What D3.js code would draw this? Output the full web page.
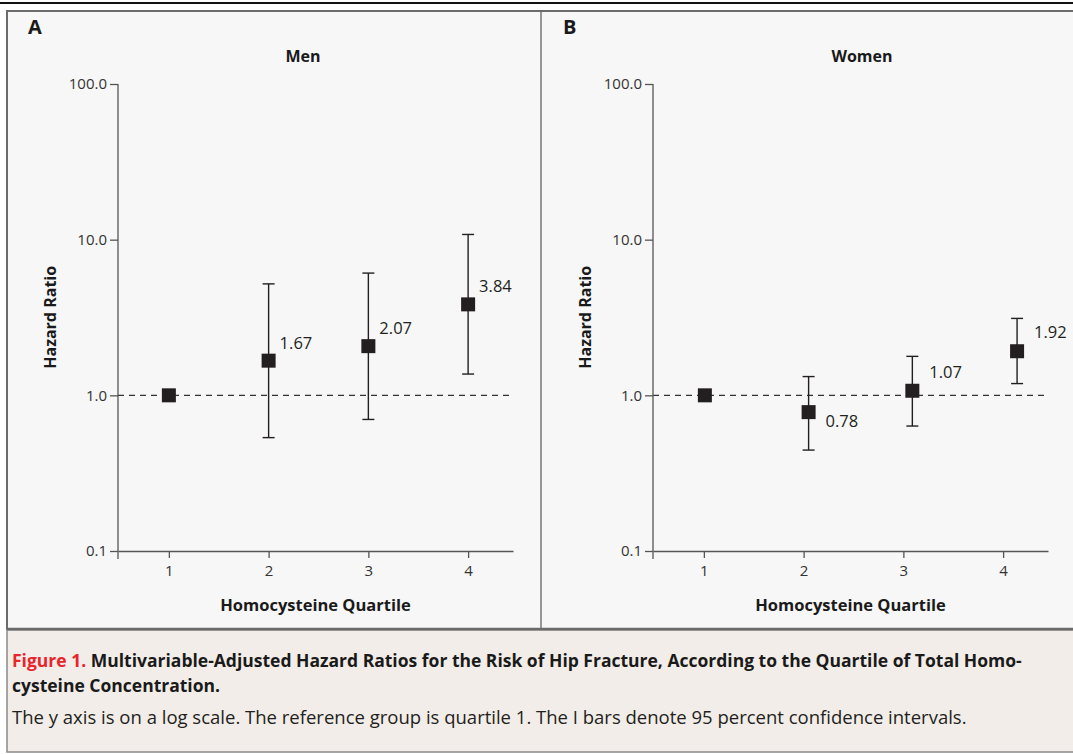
<!DOCTYPE html>
<html>
<head>
<meta charset="utf-8">
<script src="https://cdn.jsdelivr.net/npm/d3@7"></script>
<style>
  body { margin: 0; background: #fff; }
  text { font-family: "Open Sans", "Noto Sans", sans-serif; }
</style>
</head>
<body>
<div id="chart"></div>
<script>
// values
const quartiles = [1, 2, 3, 4];
const yTicks = [0.1, 1, 10, 100];

const menHR = [1.0, 1.67, 2.07, 3.84];
const menLow = [null, 0.535, 0.70, 1.37];
const menHigh = [null, 5.2, 6.1, 10.8];
const menPos = [1, 2, 3, 4];

const womenHR = [1.0, 0.78, 1.07, 1.92];
const womenLow = [null, 0.445, 0.635, 1.19];
const womenHigh = [null, 1.32, 1.78, 3.12];
const womenPos = [1.01, 2.05, 3.09, 4.14];

const W = 1073, H = 754;
const FONT = "'Open Sans', 'Noto Sans', sans-serif";

const svg = d3.select("#chart").append("svg")
  .attr("width", W)
  .attr("height", H);

// frame and backgrounds
svg.append("rect").attr("x", 0).attr("y", 0).attr("width", W).attr("height", H).attr("fill", "#fff");
svg.append("rect").attr("x", 0).attr("y", 2).attr("width", W).attr("height", 2).attr("fill", "#111");
svg.append("rect").attr("x", 7).attr("y", 11).attr("width", W).attr("height", 618)
  .attr("fill", "#f7f7f7").attr("stroke", "#6b6b6b").attr("stroke-width", 2);
svg.append("rect").attr("x", 7).attr("y", 630).attr("width", W).attr("height", 122)
  .attr("fill", "#f2ede8").attr("stroke", "#8a8a8a").attr("stroke-width", 1.5);
svg.append("line").attr("x1", 7).attr("x2", W).attr("y1", 629).attr("y2", 629)
  .attr("stroke", "#6b6b6b").attr("stroke-width", 2.5);
svg.append("line").attr("x1", 541).attr("x2", 541).attr("y1", 12).attr("y2", 628)
  .attr("stroke", "#777").attr("stroke-width", 1.5);

const plotW = 395, plotH = 467;

const yScale = d3.scaleLog()
  .domain([0.1, 100])
  .range([plotH, 0]);

const xScale = d3.scaleLinear()
  .domain([0.49, 4.45])
  .range([0, plotW]);

function panel(opts) {
  const g = svg.append("g")
    .attr("transform", `translate(${opts.left}, 84)`);

  svg.append("text")
    .attr("x", opts.left - 90)
    .attr("y", 34)
    .attr("font-size", 20)
    .attr("font-weight", 700)
    .attr("fill", "#1a1a1a")
    .text(opts.letter);

  svg.append("text")
    .attr("x", opts.left + opts.titleDx)
    .attr("y", 62)
    .attr("text-anchor", "middle")
    .attr("font-size", 16)
    .attr("font-weight", 700)
    .attr("fill", "#1a1a1a")
    .text(opts.title);

  // reference line at HR = 1
  g.append("line")
    .attr("x1", 0)
    .attr("x2", plotW)
    .attr("y1", yScale(1))
    .attr("y2", yScale(1))
    .attr("stroke", "#333")
    .attr("stroke-width", 1.2)
    .attr("stroke-dasharray", "6,5");

  const yAxis = d3.axisLeft(yScale)
    .tickValues(yTicks)
    .tickFormat(d3.format(".1f"))
    .tickSize(8)
    .tickPadding(3)
    .tickSizeOuter(0);

  const ya = g.append("g").call(yAxis);
  ya.select(".domain").remove();
  ya.selectAll(".tick line").attr("stroke", "#555").attr("stroke-width", 1.3);
  ya.selectAll(".tick text").attr("font-size", 15).attr("fill", "#333")
    .attr("font-family", FONT);
  g.append("line")
    .attr("x1", 0).attr("x2", 0)
    .attr("y1", 0).attr("y2", plotH + 8)
    .attr("stroke", "#555").attr("stroke-width", 1.3);

  const xAxis = d3.axisBottom(xScale)
    .tickValues(quartiles)
    .tickFormat(d3.format("d"))
    .tickSize(7)
    .tickPadding(7)
    .tickSizeOuter(0);

  const xa = g.append("g")
    .attr("transform", `translate(0, ${plotH})`)
    .call(xAxis);
  xa.select(".domain").attr("stroke", "#555").attr("stroke-width", 1.3);
  xa.selectAll(".tick line").attr("stroke", "#555").attr("stroke-width", 1.3);
  xa.selectAll(".tick text").attr("font-size", 15).attr("fill", "#333")
    .attr("font-family", FONT);

  g.append("text")
    .attr("x", plotW / 2)
    .attr("y", 527)
    .attr("text-anchor", "middle")
    .attr("font-size", 16.5)
    .attr("font-weight", 700)
    .attr("fill", "#1a1a1a")
    .text("Homocysteine Quartile");

  g.append("text")
    .attr("transform", `translate(-62, ${yScale(1) - 78}) rotate(-90)`)
    .attr("text-anchor", "middle")
    .attr("font-size", 16)
    .attr("font-weight", 700)
    .attr("fill", "#1a1a1a")
    .text("Hazard Ratio");

  const rows = quartiles.map((q, i) => ({
    pos: opts.pos[i], hr: opts.hr[i], low: opts.low[i], high: opts.high[i]
  }));

  const bars = rows.filter(d => d.low !== null);
  const cap = 6;

  g.selectAll(".ci").data(bars).enter().append("line")
    .attr("x1", d => xScale(d.pos)).attr("x2", d => xScale(d.pos))
    .attr("y1", d => yScale(d.low)).attr("y2", d => yScale(d.high))
    .attr("stroke", "#231f20").attr("stroke-width", 1.4);

  ["low", "high"].forEach(k => {
    g.selectAll(".cap-" + k).data(bars).enter().append("line")
      .attr("x1", d => xScale(d.pos) - cap).attr("x2", d => xScale(d.pos) + cap)
      .attr("y1", d => yScale(d[k])).attr("y2", d => yScale(d[k]))
      .attr("stroke", "#231f20").attr("stroke-width", 1.4);
  });

  const sq = 14;
  g.selectAll(".pt").data(rows).enter().append("rect")
    .attr("x", d => xScale(d.pos) - sq / 2)
    .attr("y", d => yScale(d.hr) - sq / 2)
    .attr("width", sq)
    .attr("height", sq)
    .attr("fill", "#231f20");

  g.selectAll(".val").data(bars).enter().append("text")
    .attr("x", d => xScale(d.pos) + opts.labelDx)
    .attr("y", d => yScale(d.hr) + (d.hr < 1 ? 15 : opts.labelDy))
    .attr("font-size", 16.5)
    .attr("fill", "#231f20")
    .text(d => d.hr.toFixed(2));
}

panel({ left: 118, letter: "A", title: "Men", titleDx: 185, hr: menHR, low: menLow, high: menHigh, pos: menPos, labelDx: 11, labelDy: -12 });
panel({ left: 653, letter: "B", title: "Women", titleDx: 209, hr: womenHR, low: womenLow, high: womenHigh, pos: womenPos, labelDx: 17, labelDy: -13 });

// caption
const cap1 = svg.append("text")
  .attr("x", 12)
  .attr("y", 667)
  .attr("font-size", 17.5)
  .attr("font-weight", 700)
  .attr("fill", "#1a1a1a");
cap1.append("tspan").attr("fill", "#e8242c").text("Figure 1. ");
cap1.append("tspan").text("Multivariable-Adjusted Hazard Ratios for the Risk of Hip Fracture, According to the Quartile of Total Homo-");

svg.append("text")
  .attr("x", 12)
  .attr("y", 692)
  .attr("font-size", 17.5)
  .attr("font-weight", 700)
  .attr("fill", "#1a1a1a")
  .text("cysteine Concentration.");

svg.append("text")
  .attr("x", 12)
  .attr("y", 724)
  .attr("font-size", 18.5)
  .attr("fill", "#231f20")
  .text("The y axis is on a log scale. The reference group is quartile 1. The I bars denote 95 percent confidence intervals.");
</script>
</body>
</html>
